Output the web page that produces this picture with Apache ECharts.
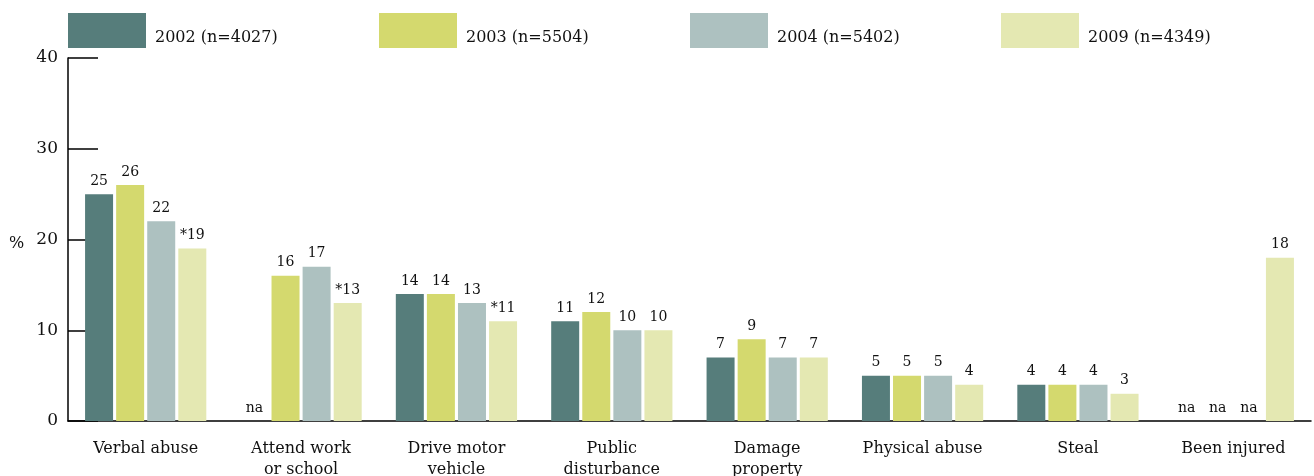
<!DOCTYPE html>
<html>
<head>
<meta charset="utf-8">
<script src="https://cdn.jsdelivr.net/npm/echarts@6/dist/echarts.min.js"></script>
<style>
  html, body { margin: 0; padding: 0; background: #fff; }
  #chart { width: 1314px; height: 476px; }
</style>
</head>
<body>
<div id="chart"></div>
<script>
// categories and values (null = na)
const categories = ['Verbal abuse', 'Attend work\nor school', 'Drive motor\nvehicle', 'Public\ndisturbance',
  'Damage\nproperty', 'Physical abuse', 'Steal', 'Been injured'];
const seriesNames = ['2002 (n=4027)', '2003 (n=5504)', '2004 (n=5402)', '2009 (n=4349)'];
const v2002 = [25, null, 14, 11, 7, 5, 4, null];
const v2003 = [26, 16, 14, 12, 9, 5, 4, null];
const v2004 = [22, 17, 13, 10, 7, 5, 4, null];
const v2009 = [19, 13, 11, 10, 7, 4, 3, 18];
// significant change marked with * in 2009
const star2009 = [true, true, true, false, false, false, false, false];
const yTicks = [0, 10, 20, 30, 40];

const colors = ['#567d7b', '#d4d96e', '#adc1c0', '#e4e8b2'];
const font = '"DejaVu Serif", "Liberation Serif", serif';

function toData(vals, stars) {
  return vals.map((v, i) => {
    if (v === null) return { value: 0, label: { formatter: 'na' } };
    return { value: v, label: { formatter: (stars && stars[i] ? '*' : '') + v } };
  });
}

const allVals = [v2002, v2003, v2004, v2009];
const legendLeft = [68, 379, 690, 1001];

const chart = echarts.init(document.getElementById('chart'));
chart.setOption({
  animation: false,
  color: colors,
  textStyle: { fontFamily: font },
  legend: seriesNames.map((n, i) => ({
    data: [n],
    left: legendLeft[i],
    top: 13,
    padding: 0,
    itemWidth: 78,
    itemHeight: 35,
    icon: 'rect',
    formatter: '{t|{name}}',
    textStyle: {
      fontFamily: font, fontSize: 16, color: '#111',
      rich: { t: { fontFamily: font, fontSize: 16, color: '#111', padding: [14, 0, 0, 4] } }
    }
  })),
  grid: { left: 68, right: 3, top: 58, bottom: 55, outerBoundsMode: 'none' },
  graphic: [{
    type: 'text', left: 9, top: 236,
    style: { text: '%', font: '16px ' + font, fill: '#111' }
  }],
  xAxis: {
    type: 'category',
    data: categories,
    axisLine: { lineStyle: { color: '#000', width: 1.5 } },
    axisTick: { inside: true, length: 6, lineStyle: { color: '#000' } },
    axisLabel: { color: '#111', fontSize: 16, fontFamily: font, margin: 17, lineHeight: 21, interval: 0 }
  },
  yAxis: {
    type: 'value',
    min: yTicks[0],
    max: yTicks[yTicks.length - 1],
    interval: 10,
    splitLine: { show: false },
    axisLine: { show: true, lineStyle: { color: '#000', width: 1.5 } },
    axisTick: { show: true, inside: true, length: 30, lineStyle: { color: '#000', width: 1.5 } },
    axisLabel: { color: '#111', fontSize: 17, fontFamily: font, margin: 10 }
  },
  series: allVals.map((vals, i) => ({
    name: seriesNames[i],
    type: 'bar',
    barWidth: 28,
    barGap: '11%',
    data: toData(vals, i === 3 ? star2009 : null),
    label: {
      show: true,
      position: 'top',
      distance: 6,
      color: '#111',
      fontSize: 14,
      fontFamily: font
    }
  }))
});
</script>
</body>
</html>
